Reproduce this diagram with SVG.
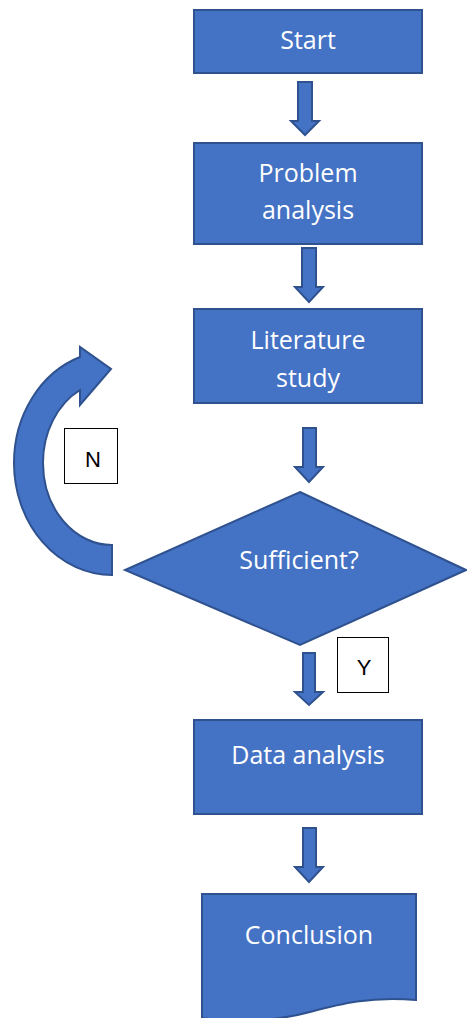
<svg xmlns="http://www.w3.org/2000/svg" width="467" height="1018" viewBox="0 0 467 1018">
<style>
.shape{fill:#4472C4;stroke:#2F528F;stroke-width:2}
.lbl{font-family:"Open Sans","Liberation Sans",sans-serif;font-size:25px;fill:#ffffff;text-anchor:middle}
.tag{fill:#ffffff;stroke:#000000;stroke-width:1}
.tagt{font-family:"Liberation Sans",Arial,sans-serif;font-size:22px;fill:#000000;text-anchor:middle}
</style>
<rect width="467" height="1018" fill="#ffffff"/>
<g id="connectors">
<path class="shape" d="M298,82 H312 V121 H319 L305,135 L291,121 H298 Z"/>
<path class="shape" d="M302,248 H316 V287 H323 L309,302 L295,287 H302 Z"/>
<path class="shape" d="M303,428 H316 V467 H323 L309,482 L295,467 H303 Z"/>
<path class="shape" d="M303,653 H315 V692 H323 L309,705 L295,692 H303 Z"/>
<path class="shape" d="M303,828 H316 V867 H323 L309,882 L295,867 H303 Z"/>
<path class="shape" d="M112,575 A98,112 0 0 1 14,463 A98,112 0 0 1 80,357 L80,347 L111,369 L80,405 L80,390 A69,82 0 0 0 43,463 A69,82 0 0 0 112,545 Z"/>
</g>
<g id="start">
<rect class="shape" x="194" y="10" width="228" height="63"/>
<text class="lbl" x="308" y="49">Start</text>
</g>
<g id="problem">
<rect class="shape" x="194" y="143" width="228" height="101"/>
<text class="lbl" x="308" y="182">Problem</text>
<text class="lbl" x="308" y="219">analysis</text>
</g>
<g id="literature">
<rect class="shape" x="194" y="309" width="228" height="94"/>
<text class="lbl" x="308" y="349">Literature</text>
<text class="lbl" x="308" y="387">study</text>
</g>
<g id="sufficient">
<polygon class="shape" points="300,492 466,570 300,645 125,570"/>
<text class="lbl" x="299" y="569">Sufficient?</text>
</g>
<g id="label-n">
<rect class="tag" x="64.5" y="428.5" width="53" height="55"/>
<text class="tagt" x="93" y="467">N</text>
</g>
<g id="label-y">
<rect class="tag" x="337.5" y="637.5" width="51" height="55"/>
<text class="tagt" x="364" y="675">Y</text>
</g>
<g id="data">
<rect class="shape" x="194" y="720" width="228" height="94"/>
<text class="lbl" x="308" y="764">Data analysis</text>
</g>
<g id="conclusion">
<path class="shape" d="M202,894 H416 V1000 C370,996 340,1004 310,1012 C280,1020 240,1024 202,1018 Z"/>
<text class="lbl" x="309" y="944">Conclusion</text>
</g>
</svg>
